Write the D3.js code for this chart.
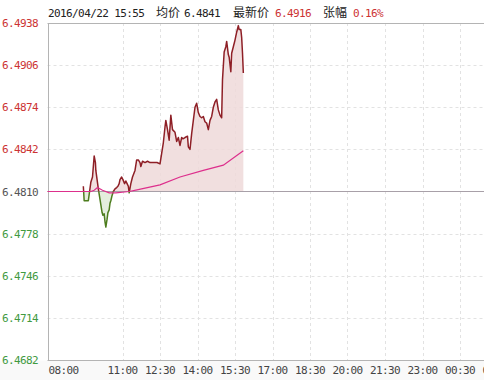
<!DOCTYPE html>
<html><head><meta charset="utf-8">
<script src="https://cdn.jsdelivr.net/npm/d3@7"></script>
<style>
html,body{margin:0;padding:0;background:#fff;}
svg{display:block;}
</style>
</head><body>
<svg id="chart" width="484" height="380"></svg>
<script>
// ---- data ----
const prevClose = 6.4810;
const yTicks = [6.4938, 6.4906, 6.4874, 6.4842, 6.4810, 6.4778, 6.4746, 6.4714, 6.4682];
const xTickLabels = ["08:00","11:00","12:30","14:00","15:30","17:00","18:30","20:00","21:30","23:00","00:30","02:00"];
const priceTimes = ["09:26","09:28","09:38","09:41","09:44","09:48","09:52","09:55","09:56","09:59","10:02","10:06","10:08","10:11","10:13","10:16","10:18","10:20","10:23","10:25","10:28","10:30","10:32","10:35","10:38","10:42","10:46","10:49","10:52","10:54","10:58","11:01","11:05","11:08","11:11","11:14","11:16","11:20","11:24","11:30","11:34","11:38","11:42","11:44","11:48","11:54","12:00","12:06","12:14","12:23","12:30","12:34","12:38","12:42","12:44","12:48","12:52","12:56","13:00","13:06","13:10","13:14","13:18","13:22","13:25","13:30","13:36","13:38","13:42","13:46","13:50","13:54","13:58","14:02","14:06","14:10","14:14","14:18","14:22","14:26","14:30","14:34","14:38","14:42","14:46","14:50","14:54","14:58","15:00","15:04","15:08","15:10","15:14","15:16","15:20","15:22","15:26","15:30","15:34","15:38","15:40","15:44","15:46","15:48","15:50"];
const priceValues = [6.4814,6.4803,6.4803,6.4810,6.4817,6.4821,6.4837,6.4832,6.4826,6.4819,6.4812,6.4804,6.4800,6.4794,6.4792,6.4793,6.4787,6.4783,6.4789,6.4794,6.4796,6.4801,6.4803,6.4807,6.4810,6.4812,6.4813,6.4814,6.4816,6.4819,6.4821,6.4819,6.4816,6.4818,6.4816,6.4814,6.4809,6.4816,6.4821,6.4826,6.4834,6.4834,6.4832,6.4829,6.4833,6.4832,6.4833,6.4832,6.4832,6.4832,6.4831,6.4839,6.4847,6.4859,6.4864,6.4857,6.4849,6.4868,6.4857,6.4855,6.4848,6.4851,6.4845,6.4851,6.4850,6.4851,6.4852,6.4844,6.4842,6.4854,6.4864,6.4874,6.4877,6.4870,6.4867,6.4866,6.4867,6.4863,6.4862,6.4857,6.4864,6.4867,6.4874,6.4878,6.4880,6.4872,6.4868,6.4866,6.4895,6.4916,6.4920,6.4924,6.4914,6.4912,6.4901,6.4915,6.4920,6.4925,6.4931,6.4936,6.4933,6.4933,6.4927,6.4915,6.4900];
const avgTimes = ["08:00","09:26","09:44","09:52","10:00","10:12","10:28","10:44","11:16","11:32","12:30","13:18","14:14","15:02","15:50"];
const avgValues = [6.4810,6.4810,6.4810,6.4811,6.4813,6.4811,6.4809,6.4809,6.4810,6.4811,6.4815,6.4821,6.4826,6.4830,6.4841];
const titleDate = "2016/04/22 15:55";
const avgLabel = "均价", avgText = "6.4841";
const lastLabel = "最新价", lastText = "6.4916";
const chgLabel = "张幅", chgText = "0.16%";

(function(){
function toDate(s){
  const [h,m] = s.split(":").map(Number);
  const day = h < 8 ? 23 : 22;
  return new Date(2016, 3, day, h, m);
}
const svg = d3.select("#chart");
const W = 484, H = 380;
const pLeft = 47.5, pTop = 23, pBottom = 360;
const x = d3.scaleTime().domain([toDate("08:00"), toDate("02:00")]).range([pLeft, pLeft + 450]);
const y = d3.scaleLinear().domain([yTicks[yTicks.length-1], yTicks[0]]).range([pBottom, pTop]);
const baseY = y(prevClose);
const crisp = v => Math.round(v) + 0.5;

const red = "#cc3333", green = "#3f9a3f", gray = "#555";
const monoFont = "'DejaVu Sans Mono', monospace";
const cjkFont = "'Noto Sans CJK SC', sans-serif";

// bottom band
svg.append("rect").attr("x",0).attr("y",crisp(pBottom)).attr("width",W).attr("height",H-pBottom).attr("fill","#f9f9f9");

// grid
const grid = svg.append("g").attr("stroke","#e2e2e2").attr("stroke-dasharray","3,3").attr("stroke-width",1);
yTicks.forEach(v => {
  if (v === yTicks[0] || v === yTicks[yTicks.length-1] || v === prevClose) return;
  grid.append("line").attr("x1",pLeft).attr("x2",W).attr("y1",crisp(y(v))).attr("y2",crisp(y(v)));
});
xTickLabels.slice(1).forEach(s => {
  const xx = crisp(x(toDate(s)));
  grid.append("line").attr("x1",xx).attr("x2",xx).attr("y1",pTop).attr("y2",pBottom);
});

// clip paths
const defs = svg.append("defs");
defs.append("clipPath").attr("id","above").append("rect").attr("x",0).attr("y",0).attr("width",W).attr("height",baseY);
defs.append("clipPath").attr("id","below").append("rect").attr("x",0).attr("y",baseY).attr("width",W).attr("height",H-baseY);

const price = priceTimes.map((t,i)=>({t:toDate(t), v:priceValues[i]}));
const avg = avgTimes.map((t,i)=>({t:toDate(t), v:avgValues[i]}));

const area = d3.area().x(d=>x(d.t)).y0(baseY).y1(d=>y(d.v));
const line = d3.line().x(d=>x(d.t)).y(d=>y(d.v));

svg.append("path").datum(price).attr("d",area).attr("fill","#eed9d9").attr("fill-opacity",0.85).attr("clip-path","url(#above)");
svg.append("path").datum(price).attr("d",area).attr("fill","#dfebd7").attr("fill-opacity",0.85).attr("clip-path","url(#below)");

// frame
const frame = svg.append("g").attr("stroke","#b4b4b4").attr("stroke-width",1);
frame.append("line").attr("x1",pLeft).attr("x2",W).attr("y1",crisp(pTop)).attr("y2",crisp(pTop));
frame.append("line").attr("x1",pLeft).attr("x2",W).attr("y1",crisp(pBottom)).attr("y2",crisp(pBottom));
frame.append("line").attr("x1",crisp(pLeft)).attr("x2",crisp(pLeft)).attr("y1",crisp(pTop)).attr("y2",crisp(pBottom));
svg.append("line").attr("x1",pLeft).attr("x2",W).attr("y1",baseY).attr("y2",baseY).attr("stroke","#a8a0a8").attr("stroke-width",1.2);

// price line
svg.append("path").datum(price).attr("d",line).attr("fill","none").attr("stroke","#8e1f26").attr("stroke-width",1.5).attr("stroke-linejoin","round").attr("clip-path","url(#above)");
svg.append("path").datum(price).attr("d",line).attr("fill","none").attr("stroke","#4d7d1e").attr("stroke-width",1.5).attr("stroke-linejoin","round").attr("clip-path","url(#below)");

// avg line
svg.append("path").datum(avg).attr("d",line).attr("fill","none").attr("stroke","#dd2f8c").attr("stroke-width",1.2);

// y labels
svg.append("g").selectAll("text").data(yTicks).join("text")
  .attr("x",2).attr("y",d=>y(d)+4)
  .attr("font-family",monoFont).attr("font-size",11).attr("letter-spacing",-0.6)
  .attr("fill",d=> d > prevClose ? red : (d < prevClose ? green : gray))
  .text(d=>d.toFixed(4));

// x labels
svg.append("g").selectAll("text").data(xTickLabels).join("text")
  .attr("x",(d,i)=> i===0 ? pLeft+1 : x(toDate(d)))
  .attr("y",373.5)
  .attr("text-anchor",(d,i)=> i===0 ? "start" : "middle")
  .attr("font-family",monoFont).attr("font-size",11).attr("letter-spacing",-0.6)
  .attr("fill","#444")
  .text(d=>d);

// title
const tg = svg.append("g");
function tt(xp, txt, col, fam, size){
  tg.append("text").attr("x",xp).attr("y",17).attr("fill",col).attr("font-family",fam)
    .attr("font-size",size).attr("letter-spacing", fam===monoFont ? -0.6 : 0).text(txt);
}
tt(48, titleDate, "#222", monoFont, 11);
tt(156, avgLabel, "#222", cjkFont, 12);
tt(184, avgText, "#222", monoFont, 11);
tt(233, lastLabel, "#222", cjkFont, 12);
tt(275, lastText, red, monoFont, 11);
tt(323, chgLabel, "#222", cjkFont, 12);
tt(353, chgText, red, monoFont, 11);
})();
</script>
</body></html>
